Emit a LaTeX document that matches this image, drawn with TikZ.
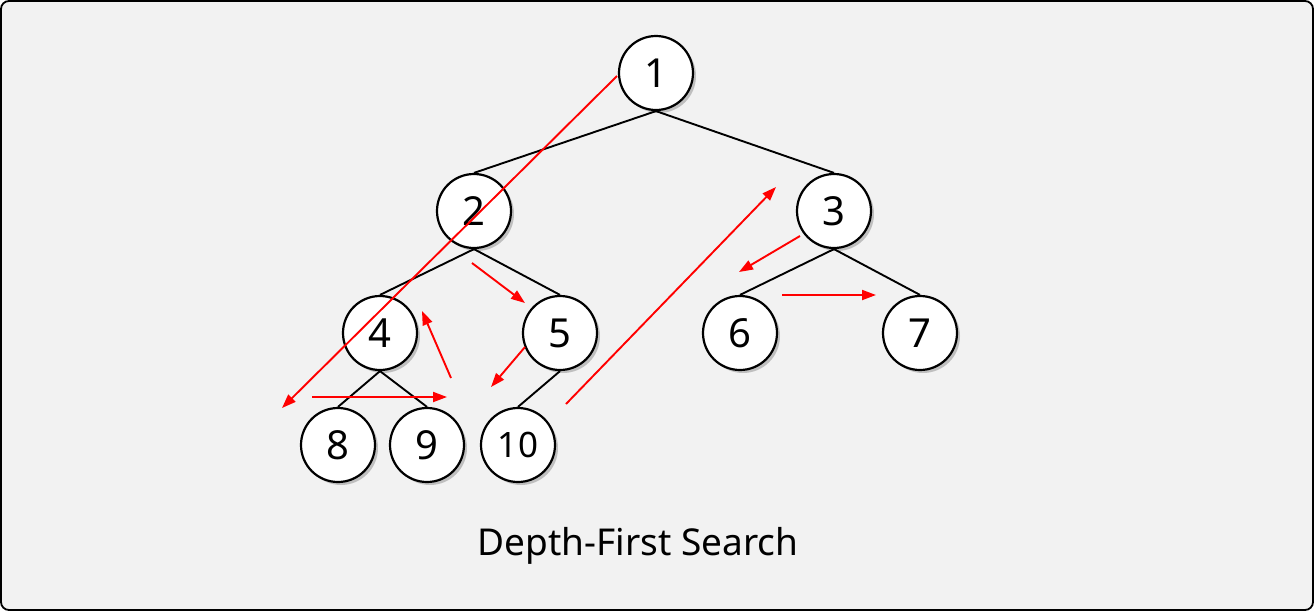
\documentclass[tikz,border=0pt]{standalone}
\usepackage{fontspec}
\setmainfont{Noto Sans}
\usetikzlibrary{arrows.meta,shadows}
\definecolor{bggray}{HTML}{F2F2F2}
\begin{document}
\begin{tikzpicture}[x=1pt,y=-1pt,
  treenode/.style={circle,draw=black,line width=2.2pt,fill=white,minimum size=74pt,inner sep=0pt,
    font=\fontsize{40}{48}\selectfont,
    drop shadow={shadow xshift=3pt,shadow yshift=-3pt,opacity=0.3,fill=black!70}},
  smallnum/.style={font=\fontsize{35}{42}\selectfont},
  edge/.style={draw=black,line width=1.9pt},
  trav/.style={draw=red,line width=1.9pt,-{Triangle[length=14pt,width=10pt]}}]
\useasboundingbox (0,0) rectangle (1314,611);
\draw[fill=bggray,draw=black,line width=1.8pt,rounded corners=8pt] (1,1) rectangle (1313,610);

\node[treenode] (n1) at (656,73) {1};
\node[treenode] (n2) at (474,211) {2};
\node[treenode] (n3) at (834,211) {3};
\node[treenode] (n4) at (380,333) {4};
\node[treenode] (n5) at (560,333) {5};
\node[treenode] (n6) at (740,333) {6};
\node[treenode] (n7) at (920,333) {7};
\node[treenode] (n8) at (338,445) {8};
\node[treenode] (n9) at (427,445) {9};
\node[treenode,smallnum] (n10) at (518,445) {10};

\draw[edge] (n1.south) -- (n2.north);
\draw[edge] (n1.south) -- (n3.north);
\draw[edge] (n2.south) -- (n4.north);
\draw[edge] (n2.south) -- (n5.north);
\draw[edge] (n3.south) -- (n6.north);
\draw[edge] (n3.south) -- (n7.north);
\draw[edge] (n4.south) -- (n8.north);
\draw[edge] (n4.south) -- (n9.north);
\draw[edge] (n5.south) -- (n10.north);

\coordinate (a1s) at (617,76);  \coordinate (a1e) at (282,408);
\coordinate (a2s) at (312,397); \coordinate (a2e) at (447,397);
\coordinate (a3s) at (451,378); \coordinate (a3e) at (422,311);
\coordinate (a4s) at (472,263); \coordinate (a4e) at (525,303);
\coordinate (a5s) at (525,347); \coordinate (a5e) at (491,387);
\coordinate (a6s) at (566,404); \coordinate (a6e) at (776,187);
\coordinate (a7s) at (800,236); \coordinate (a7e) at (739,272);
\coordinate (a8s) at (782,295); \coordinate (a8e) at (876,295);

\draw[trav] (a1s) -- (a1e);
\draw[trav] (a2s) -- (a2e);
\draw[trav] (a3s) -- (a3e);
\draw[trav] (a4s) -- (a4e);
\draw[trav] (a5s) -- (a5e);
\draw[trav] (a6s) -- (a6e);
\draw[trav] (a7s) -- (a7e);
\draw[trav] (a8s) -- (a8e);

\node[font=\fontsize{37}{44}\selectfont] (title) at (638,546) {Depth-First Search};
\end{tikzpicture}
\end{document}
